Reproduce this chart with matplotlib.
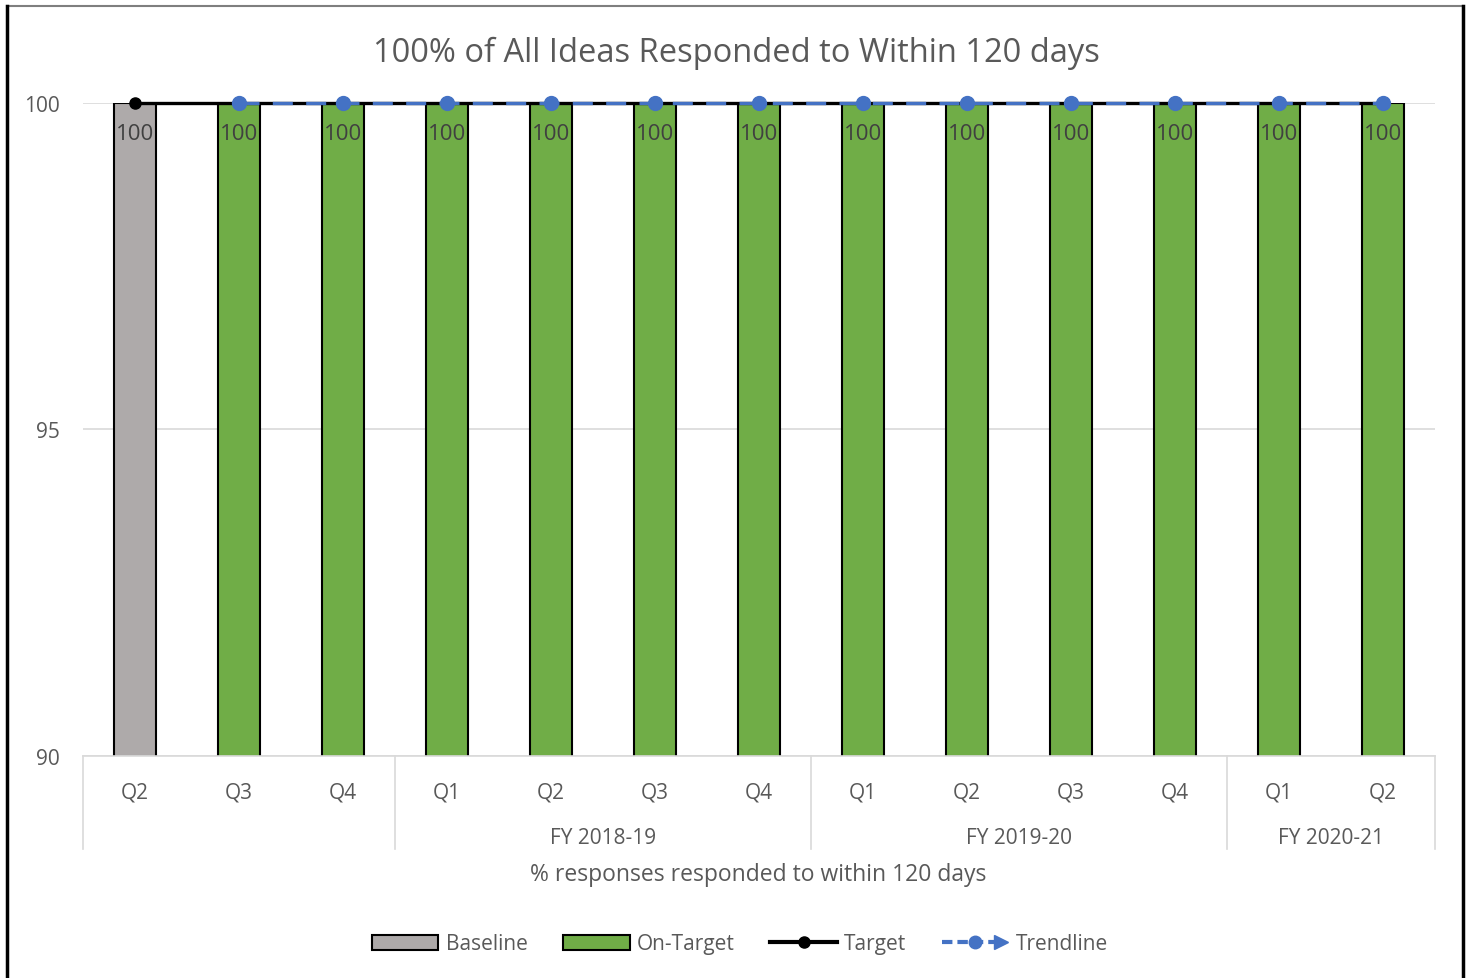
import numpy as np
import matplotlib
matplotlib.use("Agg")
import matplotlib.pyplot as plt
from matplotlib.lines import Line2D
from matplotlib.patches import Patch
from matplotlib.legend_handler import HandlerBase
import matplotlib.transforms as mtrans

plt.rcParams['font.family'] = ['Open Sans', 'DejaVu Sans']

# ---- data ----
quarters = ["Q2", "Q3", "Q4", "Q1", "Q2", "Q3", "Q4", "Q1", "Q2", "Q3", "Q4", "Q1", "Q2"]
groups = ["", "FY 2018-19", "FY 2019-20", "FY 2020-21"]
group_sizes = [3, 4, 4, 2]
baseline = [100, None, None, None, None, None, None, None, None, None, None, None, None]
on_target = [None, 100, 100, 100, 100, 100, 100, 100, 100, 100, 100, 100, 100]
target = [100, 100, 100, 100, 100, 100, 100, 100, 100, 100, 100, 100, 100]
trendline = [None, 100, 100, 100, 100, 100, 100, 100, 100, 100, 100, 100, 100]

title = "100% of All Ideas Responded to Within 120 days"
xlabel = "% responses responded to within 120 days"

TXT = "#595959"
GRAY = "#AEAAAA"
GREEN = "#70AD47"
BLUE = "#4472C4"
GRID = "#D9D9D9"

def arr(v):
    return np.array([np.nan if a is None else a for a in v], dtype=float)

W, H = 1473, 979
fig = plt.figure(figsize=(W / 100, H / 100), dpi=100)
L, R, T, B = 83, 1435, 104, 757
ax = fig.add_axes([L / W, 1 - B / H, (R - L) / W, (B - T) / H])

x = np.arange(len(quarters))
bw = 0.4
bl = arr(baseline)
ot = arr(on_target)
ax.bar(x, np.nan_to_num(bl, nan=0), width=bw, color=GRAY, edgecolor="black", linewidth=1.5, zorder=2)
ax.bar(x, np.nan_to_num(ot, nan=0), width=bw, color=GREEN, edgecolor="black", linewidth=1.5, zorder=2)

tg = arr(target)
tr = arr(trendline)
ax.plot(x, tg, color="black", lw=2.4, marker="o", ms=8, zorder=4, clip_on=False)
ax.plot(x, tr, color=BLUE, lw=2.4, ls=(0, (6, 4)), marker="o", ms=10, zorder=5, clip_on=False)

# data labels
vals = np.where(np.isnan(bl), ot, bl)
for xi, v in zip(x, vals):
    ax.annotate(f"{v:.0f}", (xi, v), xytext=(0, -22), textcoords="offset points",
                ha="center", va="center", fontsize=16, color="#404040", zorder=6)

ax.set_xlim(-0.5, len(quarters) - 0.5)
ax.set_ylim(90, 100)
ax.set_yticks([90, 95, 100])
ax.tick_params(axis="y", length=0, pad=17, labelsize=15, labelcolor=TXT)
ax.set_xticks([])
ax.grid(axis="y", color=GRID, lw=1.2, zorder=0)
for s in ["top", "right", "left"]:
    ax.spines[s].set_visible(False)
ax.spines["bottom"].set_color(GRID)
ax.spines["bottom"].set_linewidth(1.2)

# multi-level category axis
btr = mtrans.blended_transform_factory(ax.transData, ax.transAxes)
ph = B - T
y_q = -(793 - B) / ph
y_g = -(838 - B) / ph
y_end = -(850 - B) / ph
for xi, q in zip(x, quarters):
    ax.text(xi, y_q, q, transform=btr, ha="center", va="center", fontsize=15, color=TXT)
start = 0
bounds = [-0.5]
for g, n in zip(groups, group_sizes):
    c = start + (n - 1) / 2
    ax.text(c, y_g, g, transform=btr, ha="center", va="center", fontsize=15, color=TXT)
    start += n
    bounds.append(start - 0.5)
for bx in bounds:
    ax.add_line(Line2D([bx, bx], [0, y_end], transform=btr, color=GRID, lw=1.2, clip_on=False))

fig.text(736 / W, 1 - 53 / H, title, ha="center", va="center", fontsize=23.5, color=TXT)
fig.text(758 / W, 1 - 875 / H, xlabel, ha="center", va="center", fontsize=16.5, color=TXT)


class HandlerTrend(HandlerBase):
    def create_artists(self, legend, orig, xdescent, ydescent, width, height, fontsize, trans):
        y = height / 2 - ydescent
        x0 = -xdescent
        ln = Line2D([x0, x0 + width * 0.85], [y, y], color=BLUE, lw=3, ls=(0, (2.5, 1.2)))
        dot = Line2D([x0 + width * 0.5], [y], marker="o", color=BLUE, ms=9, ls="none")
        arw = Line2D([x0 + width * 0.88], [y], marker=">", color=BLUE, ms=10, ls="none")
        for a in (ln, dot, arw):
            a.set_transform(trans)
        return [ln, dot, arw]


class TrendKey:
    pass


handles = [
    Patch(facecolor=GRAY, edgecolor="black", linewidth=1.5),
    Patch(facecolor=GREEN, edgecolor="black", linewidth=1.5),
    Line2D([], [], color="black", lw=3, marker="o", ms=8),
    TrendKey(),
]
labels = ["Baseline", "On-Target", "Target", "Trendline"]
leg = fig.legend(handles, labels, loc="center", bbox_to_anchor=(740 / W, 1 - 945 / H), ncol=4,
                 frameon=False, fontsize=15, handlelength=3.2, handleheight=0.7, handletextpad=0.35,
                 columnspacing=1.7, handler_map={TrendKey: HandlerTrend()})
for t in leg.get_texts():
    t.set_color(TXT)

# figure border
fig.add_artist(Line2D([7 / W, 1463 / W], [1 - 7 / H, 1 - 7 / H], transform=fig.transFigure, color="#7F7F7F", lw=1.5))
fig.add_artist(Line2D([7 / W, 7 / W], [0, 1 - 7 / H], transform=fig.transFigure, color="black", lw=2.5))
fig.add_artist(Line2D([1463 / W, 1463 / W], [0, 1 - 7 / H], transform=fig.transFigure, color="black", lw=2.5))

fig.savefig("out.png", dpi=100)
